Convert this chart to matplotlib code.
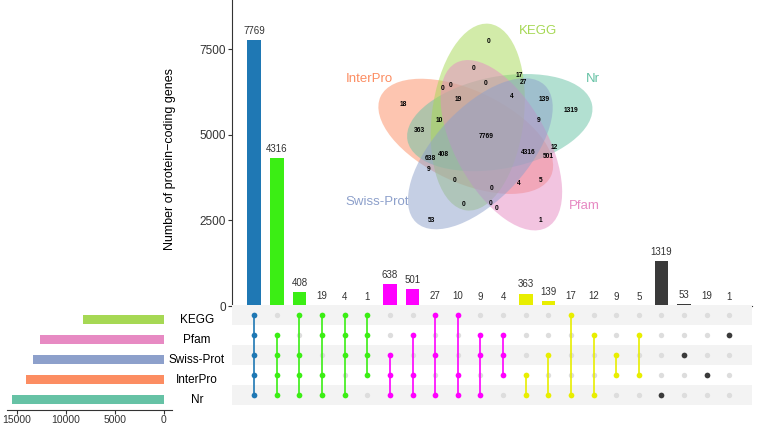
import numpy as np
import matplotlib
matplotlib.use("Agg")
import matplotlib.pyplot as plt
from matplotlib.patches import Ellipse
from matplotlib.transforms import blended_transform_factory

plt.rcParams['font.family'] = ['Liberation Sans', 'DejaVu Sans']

# ========= DATA =========
set_names  = ["KEGG", "Pfam", "Swiss-Prot", "InterPro", "Nr"]
set_sizes  = [8255, 12641, 13377, 14062, 15551]
set_colors = ["#a6d854", "#e78ac3", "#8da0cb", "#fc8d62", "#66c2a5"]

# intersections, membership in set_names order (1 = in set)
inter_counts  = [7769, 4316, 408, 19, 4, 1, 638, 501, 27, 10, 9, 4,
                 363, 139, 17, 12, 9, 5, 1319, 53, 19, 1]
inter_members = ["11111", "01111", "10111", "11011", "11101", "11110",
                 "00111", "01011", "10101", "10011", "01101", "01110",
                 "00011", "00101", "10001", "01001", "00110", "01010",
                 "00001", "00100", "00010", "01000"]
degree_colors = {5: "#1f78b4", 4: "#3bee14", 3: "#ff00ff", 2: "#e8ee00", 1: "#3a3a3a"}

# venn: region counts and where they sit (pixels from top-left)
venn_counts = [0, 0, 17, 27, 0, 0, 0, 18, 19, 4, 139, 1319, 10, 9, 363,
               7769, 12, 4316, 501, 408, 638, 9, 0, 5, 4, 0, 0, 0, 0, 53, 1]
venn_xy = [(488.3, 41.7), (474, 69), (519.3, 75.3), (523.3, 82.7), (442.3, 88),
           (450.3, 85.7), (486, 83.3), (403, 105), (458, 99.3), (511.3, 96),
           (544, 99.3), (570.7, 111), (439.3, 120.7), (538.3, 120.7), (419.3, 131),
           (485.7, 136.7), (554.3, 147.7), (528, 152.3), (548.7, 156.7), (443.3, 154.7),
           (430, 158.7), (428.7, 169.3), (454.3, 181), (541, 181), (518.7, 183.7),
           (491.3, 189), (464, 204.3), (490.3, 203.3), (496.7, 208.7), (431.7, 220.3),
           (540.7, 220.3)]
venn_slot = {"KEGG": 0, "Nr": 1, "Pfam": 2, "Swiss-Prot": 3, "InterPro": 4}
venn_draw = ["InterPro", "Nr", "KEGG", "Pfam", "Swiss-Prot"]
venn_name_xy = {"KEGG": (538, 31), "Nr": (593, 79), "Pfam": (584, 206),
                "Swiss-Prot": (377, 202), "InterPro": (369, 79)}
# ========================

W, H = 760, 448
fig = plt.figure(figsize=(W / 100, H / 100), dpi=100)


def box(x0, y0, x1, y1):
    return [x0 / W, 1 - y1 / H, (x1 - x0) / W, (y1 - y0) / H]


ax_bar = fig.add_axes(box(231.6, 0, 752, 306))
ax_mat = fig.add_axes(box(231.6, 305, 752, 405))
ax_set = fig.add_axes(box(7, 309.5, 172, 409.5))
ax_v   = fig.add_axes([0, 0, 1, 1])

txt = "#333333"
x = np.arange(len(inter_counts))
bar_cols = [degree_colors[m.count("1")] for m in inter_members]

# -------- intersection bars --------
ax_bar.bar(x, inter_counts, width=0.6, color=bar_cols)
for xi, c in zip(x, inter_counts):
    ax_bar.annotate(str(c), (xi, c), xytext=(0, 3), textcoords="offset points",
                    ha="center", va="bottom", fontsize=7, color=txt)
ax_bar.set_xlim(-1, 22)
ax_bar.set_ylim(0, 8947)
ax_bar.set_xticks([])
ax_bar.set_yticks([0, 2500, 5000, 7500])
for s in ("top", "right"):
    ax_bar.spines[s].set_visible(False)
for s in ("left", "bottom"):
    ax_bar.spines[s].set_color(txt)
    ax_bar.spines[s].set_linewidth(0.8)
ax_bar.tick_params(axis="y", labelsize=8.5, length=3, width=0.8, pad=1,
                   color=txt, labelcolor=txt)
ax_bar.set_ylabel("Number of protein\u2212coding genes", fontsize=9, color="black")
ax_bar.yaxis.set_label_coords(-0.107, 0.48)
ax_bar.patch.set_alpha(0)

# -------- matrix --------
ax_mat.set_xlim(-1, 22)
ax_mat.set_ylim(4.5, -0.5)
ax_mat.axis("off")
for r in range(0, 5, 2):
    ax_mat.axhspan(r - 0.5, r + 0.5, color="#f3f3f3", zorder=0, lw=0)
for j, m in enumerate(inter_members):
    rows = [i for i, ch in enumerate(m) if ch == "1"]
    others = [i for i, ch in enumerate(m) if ch == "0"]
    ax_mat.scatter([j] * len(others), others, s=15, color="#dddddd",
                   linewidths=0, zorder=2)
    if len(rows) > 1:
        ax_mat.plot([j, j], [min(rows), max(rows)], color=bar_cols[j],
                    lw=1.2, zorder=3)
    ax_mat.scatter([j] * len(rows), rows, s=17, color=bar_cols[j],
                   linewidths=0, zorder=4)

# -------- set sizes --------
ax_set.barh(np.arange(len(set_names)), set_sizes, height=0.45, color=set_colors)
ax_set.set_xlim(16020, -817)
ax_set.set_ylim(4.5, -0.5)
ax_set.set_yticks([])
ax_set.set_xticks([15000, 10000, 5000, 0])
for s in ("top", "right", "left"):
    ax_set.spines[s].set_visible(False)
ax_set.spines["bottom"].set_color(txt)
ax_set.spines["bottom"].set_linewidth(0.8)
ax_set.tick_params(axis="x", labelsize=7.5, length=3, width=0.8, pad=1,
                   color=txt, labelcolor=txt)
ax_set.patch.set_alpha(0)
tr = blended_transform_factory(ax_set.transAxes, ax_set.transData)
for i, name in enumerate(set_names):
    ax_set.text(1.1515, i, name, transform=tr, ha="center", va="center",
                fontsize=8.5, color="black")

# -------- venn --------
ax_v.set_xlim(0, W)
ax_v.set_ylim(H, 0)
ax_v.axis("off")
cx, cy = 485, 135
col_of = dict(zip(set_names, set_colors))
for z, name in enumerate(venn_draw):
    k = venn_slot[name]
    phi = np.deg2rad(112 - 72 * k)
    theta = 83 - 72 * k
    ex = cx + 19.3 * np.cos(phi)
    ey = cy - 19.3 * np.sin(phi)
    ax_v.add_patch(Ellipse((ex, ey), 188, 92, angle=-theta, zorder=1 + z,
                           facecolor=col_of[name], alpha=0.5, edgecolor="none"))
for c, (vx, vy) in zip(venn_counts, venn_xy):
    ax_v.text(vx, vy, str(c), ha="center", va="center", fontsize=4.8,
              fontweight="bold", color="black", zorder=10)
for name, (nx, ny) in venn_name_xy.items():
    ax_v.text(nx, ny, name, ha="center", va="center", fontsize=9.5,
              color=col_of[name], zorder=10)

fig.savefig("out.png", dpi=100)
